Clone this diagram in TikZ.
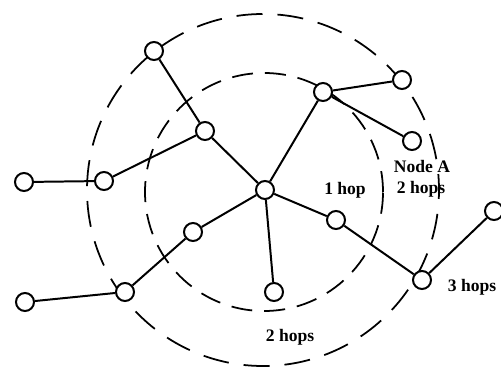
\documentclass[tikz,border=0pt]{standalone}
\usepackage{fontspec}
\setmainfont{Liberation Serif}
\usepackage{tikz}

\tikzset{
  hopnode/.style={draw, circle, fill=white, minimum size=5.4mm, inner sep=0pt},
  hoplabel/.style={font=\fontsize{15}{17}\selectfont\bfseries, inner sep=0pt},
  ring/.style={line width=1.5pt}
}

\begin{document}
\begin{tikzpicture}[x=0.3mm, y=-0.3mm, line width=1.7pt]
      \useasboundingbox (0,0) rectangle (501,369);

      % hop rings
      \draw[ring, dash pattern=on 6.3mm off 3.6mm] (264,192) circle [radius=35.7mm];
      \draw[ring, dash pattern=on 7.8mm off 4.5mm, dash phase=3mm] (263,190) circle [radius=52.8mm];

      \node (C) at (265,190)  [hopnode] {};
      \node (N1) at (154,51)  [hopnode] {};
      \node (N2) at (205,131)  [hopnode] {};
      \node (N3) at (323,92)  [hopnode] {};
      \node (N4) at (402,80)  [hopnode] {};
      \node (N5) at (412,141)  [hopnode] {};
      \node (N6) at (104,181)  [hopnode] {};
      \node (N7) at (24,182)  [hopnode] {};
      \node (N8) at (193,232)  [hopnode] {};
      \node (N9) at (125,292)  [hopnode] {};
      \node (N10) at (25,302)  [hopnode] {};
      \node (N11) at (274,292)  [hopnode] {};
      \node (N12) at (336,220)  [hopnode] {};
      \node (N13) at (422,280)  [hopnode] {};
      \node (N14) at (494,211)  [hopnode] {};

      \draw (N1) to (N2) to (C) (N2) to (N6) to (N7);
      \draw (C) to (N3) to (N4) (N3) to (N5);
      \draw (C) to (N8) to (N9) to (N10) (C) to (N11);
      \draw (C) to (N12) to (N13) to (N14);

      \draw (345,190) node[hoplabel] {1 hop};
      \draw (422,166) node[hoplabel] {Node A};
      \draw (421,189) node[hoplabel] {2 hops};
      \draw (472,287) node[hoplabel] {3 hops};
      \draw (290,337) node[hoplabel] {2 hops};

    \end{tikzpicture}
\end{document}
